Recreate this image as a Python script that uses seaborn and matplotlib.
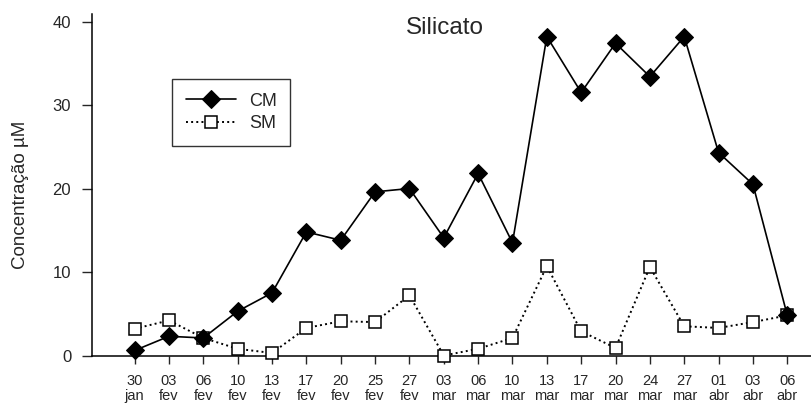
import matplotlib
matplotlib.use("Agg")
import matplotlib.pyplot as plt
import seaborn as sns
import pandas as pd

# Sampling dates (day / month) and silicate concentrations (µM)
days = ["30", "03", "06", "10", "13", "17", "20", "25", "27", "03",
        "06", "10", "13", "17", "20", "24", "27", "01", "03", "06"]
months = ["jan", "fev", "fev", "fev", "fev", "fev", "fev", "fev", "fev", "mar",
          "mar", "mar", "mar", "mar", "mar", "mar", "mar", "abr", "abr", "abr"]
cm = [0.6, 2.3, 2.1, 5.3, 7.5, 14.8, 13.8, 19.6, 20.0, 14.1,
      21.8, 13.5, 38.2, 31.5, 37.4, 33.4, 38.2, 24.3, 20.5, 4.8]
sm = [3.2, 4.2, 2.1, 0.8, 0.3, 3.3, 4.1, 4.0, 7.2, 0.0,
      0.8, 2.1, 10.7, 2.9, 0.9, 10.6, 3.5, 3.3, 4.0, 4.8]

sns.set_style("ticks")
plt.rcParams["font.family"] = ["Liberation Sans", "DejaVu Sans"]

df = pd.DataFrame({"pos": range(len(days)), "CM": cm, "SM": sm})

fig = plt.figure(figsize=(8.11, 4.03), dpi=100)
ax = fig.add_axes([92 / 811, 47.5 / 403, 719 / 811, 341.5 / 403])

sns.lineplot(data=df, x="pos", y="SM", ax=ax, color="black", linestyle=":",
             linewidth=1.4, marker="s", markersize=8.5, markerfacecolor="white",
             markeredgecolor="black", markeredgewidth=1.1, label="SM",
             clip_on=False, zorder=3)
sns.lineplot(data=df, x="pos", y="CM", ax=ax, color="black", linestyle="-",
             linewidth=1.2, marker="D", markersize=9.5, markerfacecolor="black",
             markeredgecolor="black", label="CM", clip_on=False, zorder=4)

ax.set_xlim(-1.24, 19.69)
ax.set_ylim(0, 40.9)
ax.set_yticks([0, 10, 20, 30, 40])
ax.set_xticks(range(len(days)))
ax.set_xticklabels([f"{d}\n{m}" for d, m in zip(days, months)], fontsize=10.5,
                   linespacing=1.1)
ax.tick_params(axis="y", labelsize=12, length=7, width=1, direction="out", pad=8)
ax.tick_params(axis="x", length=6, width=1, direction="out", pad=7)
ax.set_xlabel("")
ax.set_ylabel("Concentração µM", fontsize=13.5)
ax.yaxis.set_label_coords(-0.088, 0.47)

for side in ("top", "right"):
    ax.spines[side].set_visible(False)
for side in ("left", "bottom"):
    ax.spines[side].set_linewidth(1.1)
    ax.spines[side].set_color("black")

ax.text(0.491, 0.958, "Silicato", transform=ax.transAxes, ha="center",
        va="center", fontsize=17.5)

handles, labels = ax.get_legend_handles_labels()
order = [labels.index("CM"), labels.index("SM")]
leg = ax.legend([handles[i] for i in order], [labels[i] for i in order],
                loc="upper left", bbox_to_anchor=(80 / 719, (355.5 - 79) / 341.5),
                fontsize=13, frameon=True, fancybox=False, handlelength=2.8,
                borderpad=0.75, labelspacing=0.3, handletextpad=0.7,
                borderaxespad=0)
leg.get_frame().set_edgecolor("black")
leg.get_frame().set_linewidth(1.0)

fig.savefig("out.png", dpi=100)
